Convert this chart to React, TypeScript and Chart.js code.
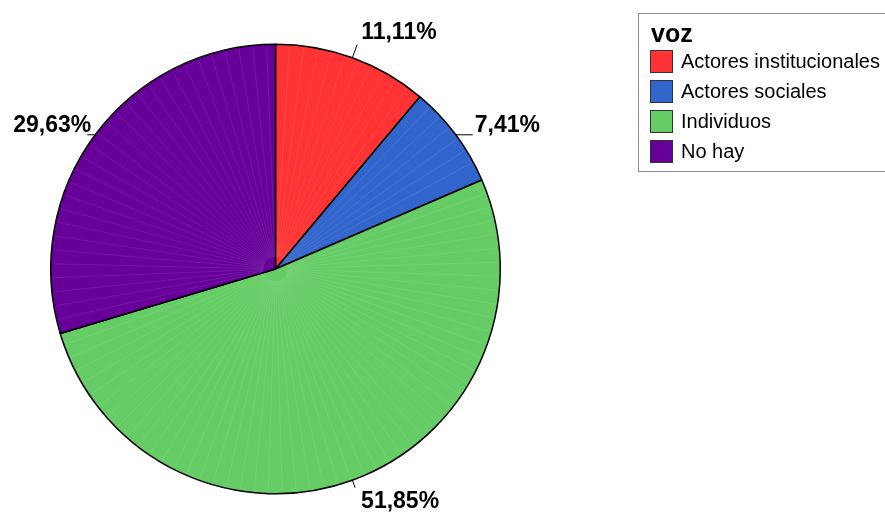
import React, { useEffect, useRef } from "react";
import { Chart, registerables } from "chart.js";

Chart.register(...registerables);

const legendTitle = "voz";
const categories = ["Actores institucionales", "Actores sociales", "Individuos", "No hay"];
const counts = [3, 2, 14, 8];
const colors = ["#ff3333", "#3366cc", "#66cc66", "#660099"];

const FONT = '"Liberation Sans", Arial, Helvetica, sans-serif';

const total = counts.reduce((a, b) => a + b, 0);
const pctLabels = counts.map((c) => ((c / total) * 100).toFixed(2).replace(".", ",") + "%");

const seamsPlugin = {
  id: "seams",
  afterDatasetsDraw(chart: any) {
    const meta = chart.getDatasetMeta(0);
    const ctx = chart.ctx;
    ctx.save();
    ctx.strokeStyle = "rgba(255,255,255,0.09)";
    ctx.lineWidth = 1;
    meta.data.forEach((arc: any) => {
      const { x, y, startAngle, endAngle, outerRadius } = arc.getProps(
        ["x", "y", "startAngle", "endAngle", "outerRadius"],
        true
      );
      const step = (Math.PI * 2) / 100;
      for (let a = startAngle + step; a < endAngle - step * 0.5; a += step) {
        ctx.beginPath();
        ctx.moveTo(x + Math.cos(a) * 12, y + Math.sin(a) * 12);
        ctx.lineTo(x + Math.cos(a) * (outerRadius - 2), y + Math.sin(a) * (outerRadius - 2));
        ctx.stroke();
      }
    });
    ctx.restore();
  },
};

const labelsPlugin = {
  id: "pctLabels",
  afterDraw(chart: any) {
    const meta = chart.getDatasetMeta(0);
    const ctx = chart.ctx;
    ctx.save();
    ctx.font = `bold 23px ${FONT}`;
    ctx.fillStyle = "#000";
    ctx.strokeStyle = "#000";
    ctx.lineWidth = 1;
    meta.data.forEach((arc: any, i: number) => {
      const { x, y, startAngle, endAngle, outerRadius } = arc.getProps(
        ["x", "y", "startAngle", "endAngle", "outerRadius"],
        true
      );
      const mid = (startAngle + endAngle) / 2;
      const c = Math.cos(mid);
      const s = Math.sin(mid);
      const px = x + c * outerRadius;
      const py = y + s * outerRadius;
      const text = pctLabels[i];
      if (Math.abs(c) > 0.7) {
        if (c > 0) {
          const ex = px + 17;
          ctx.beginPath();
          ctx.moveTo(px, py);
          ctx.lineTo(ex, py);
          ctx.stroke();
          ctx.textAlign = "left";
          ctx.fillText(text, ex + 2, py - 3);
        } else {
          const ex = px - 8;
          ctx.beginPath();
          ctx.moveTo(px, py);
          ctx.lineTo(ex, py);
          ctx.stroke();
          ctx.textAlign = "right";
          ctx.fillText(text, ex + 4, py - 3);
        }
      } else if (s < 0) {
        const ex = px + c * 14;
        const ey = py + s * 14;
        ctx.beginPath();
        ctx.moveTo(px, py);
        ctx.lineTo(ex, ey);
        ctx.stroke();
        ctx.textAlign = c >= 0 ? "left" : "right";
        ctx.fillText(text, ex + (c >= 0 ? 4 : -4), ey - 6);
      } else {
        const ex = px + c * 8;
        const ey = py + s * 8;
        ctx.beginPath();
        ctx.moveTo(px, py);
        ctx.lineTo(ex, ey);
        ctx.stroke();
        ctx.textAlign = c >= 0 ? "left" : "right";
        ctx.fillText(text, ex + (c >= 0 ? 6 : -6), ey + 20);
      }
    });
    ctx.restore();
  },
};

const legendPlugin = {
  id: "boxLegend",
  afterDraw(chart: any) {
    const ctx = chart.ctx;
    const labels = chart.data.labels as string[];
    const bg = chart.data.datasets[0].backgroundColor as string[];
    ctx.save();
    const bx = 638.5;
    const by = 13.5;
    ctx.strokeStyle = "#8c8c8c";
    ctx.lineWidth = 1;
    ctx.strokeRect(bx, by, 270, 158);
    ctx.fillStyle = "#000";
    ctx.textAlign = "left";
    ctx.textBaseline = "alphabetic";
    ctx.font = `bold 25px ${FONT}`;
    ctx.fillText(legendTitle, 651, 42);
    ctx.font = `20px ${FONT}`;
    labels.forEach((lab, i) => {
      const sy = 50 + i * 30;
      ctx.fillStyle = bg[i];
      ctx.fillRect(650, sy, 23, 23);
      ctx.strokeStyle = "#333";
      ctx.strokeRect(650.5, sy + 0.5, 22, 22);
      ctx.fillStyle = "#000";
      ctx.textBaseline = "middle";
      ctx.fillText(lab, 681, sy + 12);
    });
    ctx.restore();
  },
};

export default function App() {
  const ref = useRef<HTMLCanvasElement | null>(null);
  useEffect(() => {
    if (!ref.current) return;
    const chart = new Chart(ref.current, {
      type: "pie",
      data: {
        labels: categories,
        datasets: [
          {
            data: counts,
            backgroundColor: colors,
            borderColor: "#000",
            borderWidth: 1.5,
          },
        ],
      },
      options: {
        responsive: false,
        animation: false,
        devicePixelRatio: 1,
        layout: { padding: { left: 50, top: 43.5, right: 384, bottom: 20.5 } },
        plugins: {
          legend: { display: false },
          tooltip: { enabled: false },
        },
      },
      plugins: [seamsPlugin, labelsPlugin, legendPlugin],
    });
    return () => chart.destroy();
  }, []);
  return (
    <div style={{ position: "fixed", left: 0, top: 0, width: 885, height: 515, background: "#fff" }}>
      <canvas ref={ref} width={885} height={515} style={{ width: 885, height: 515, display: "block" }} />
    </div>
  );
}
